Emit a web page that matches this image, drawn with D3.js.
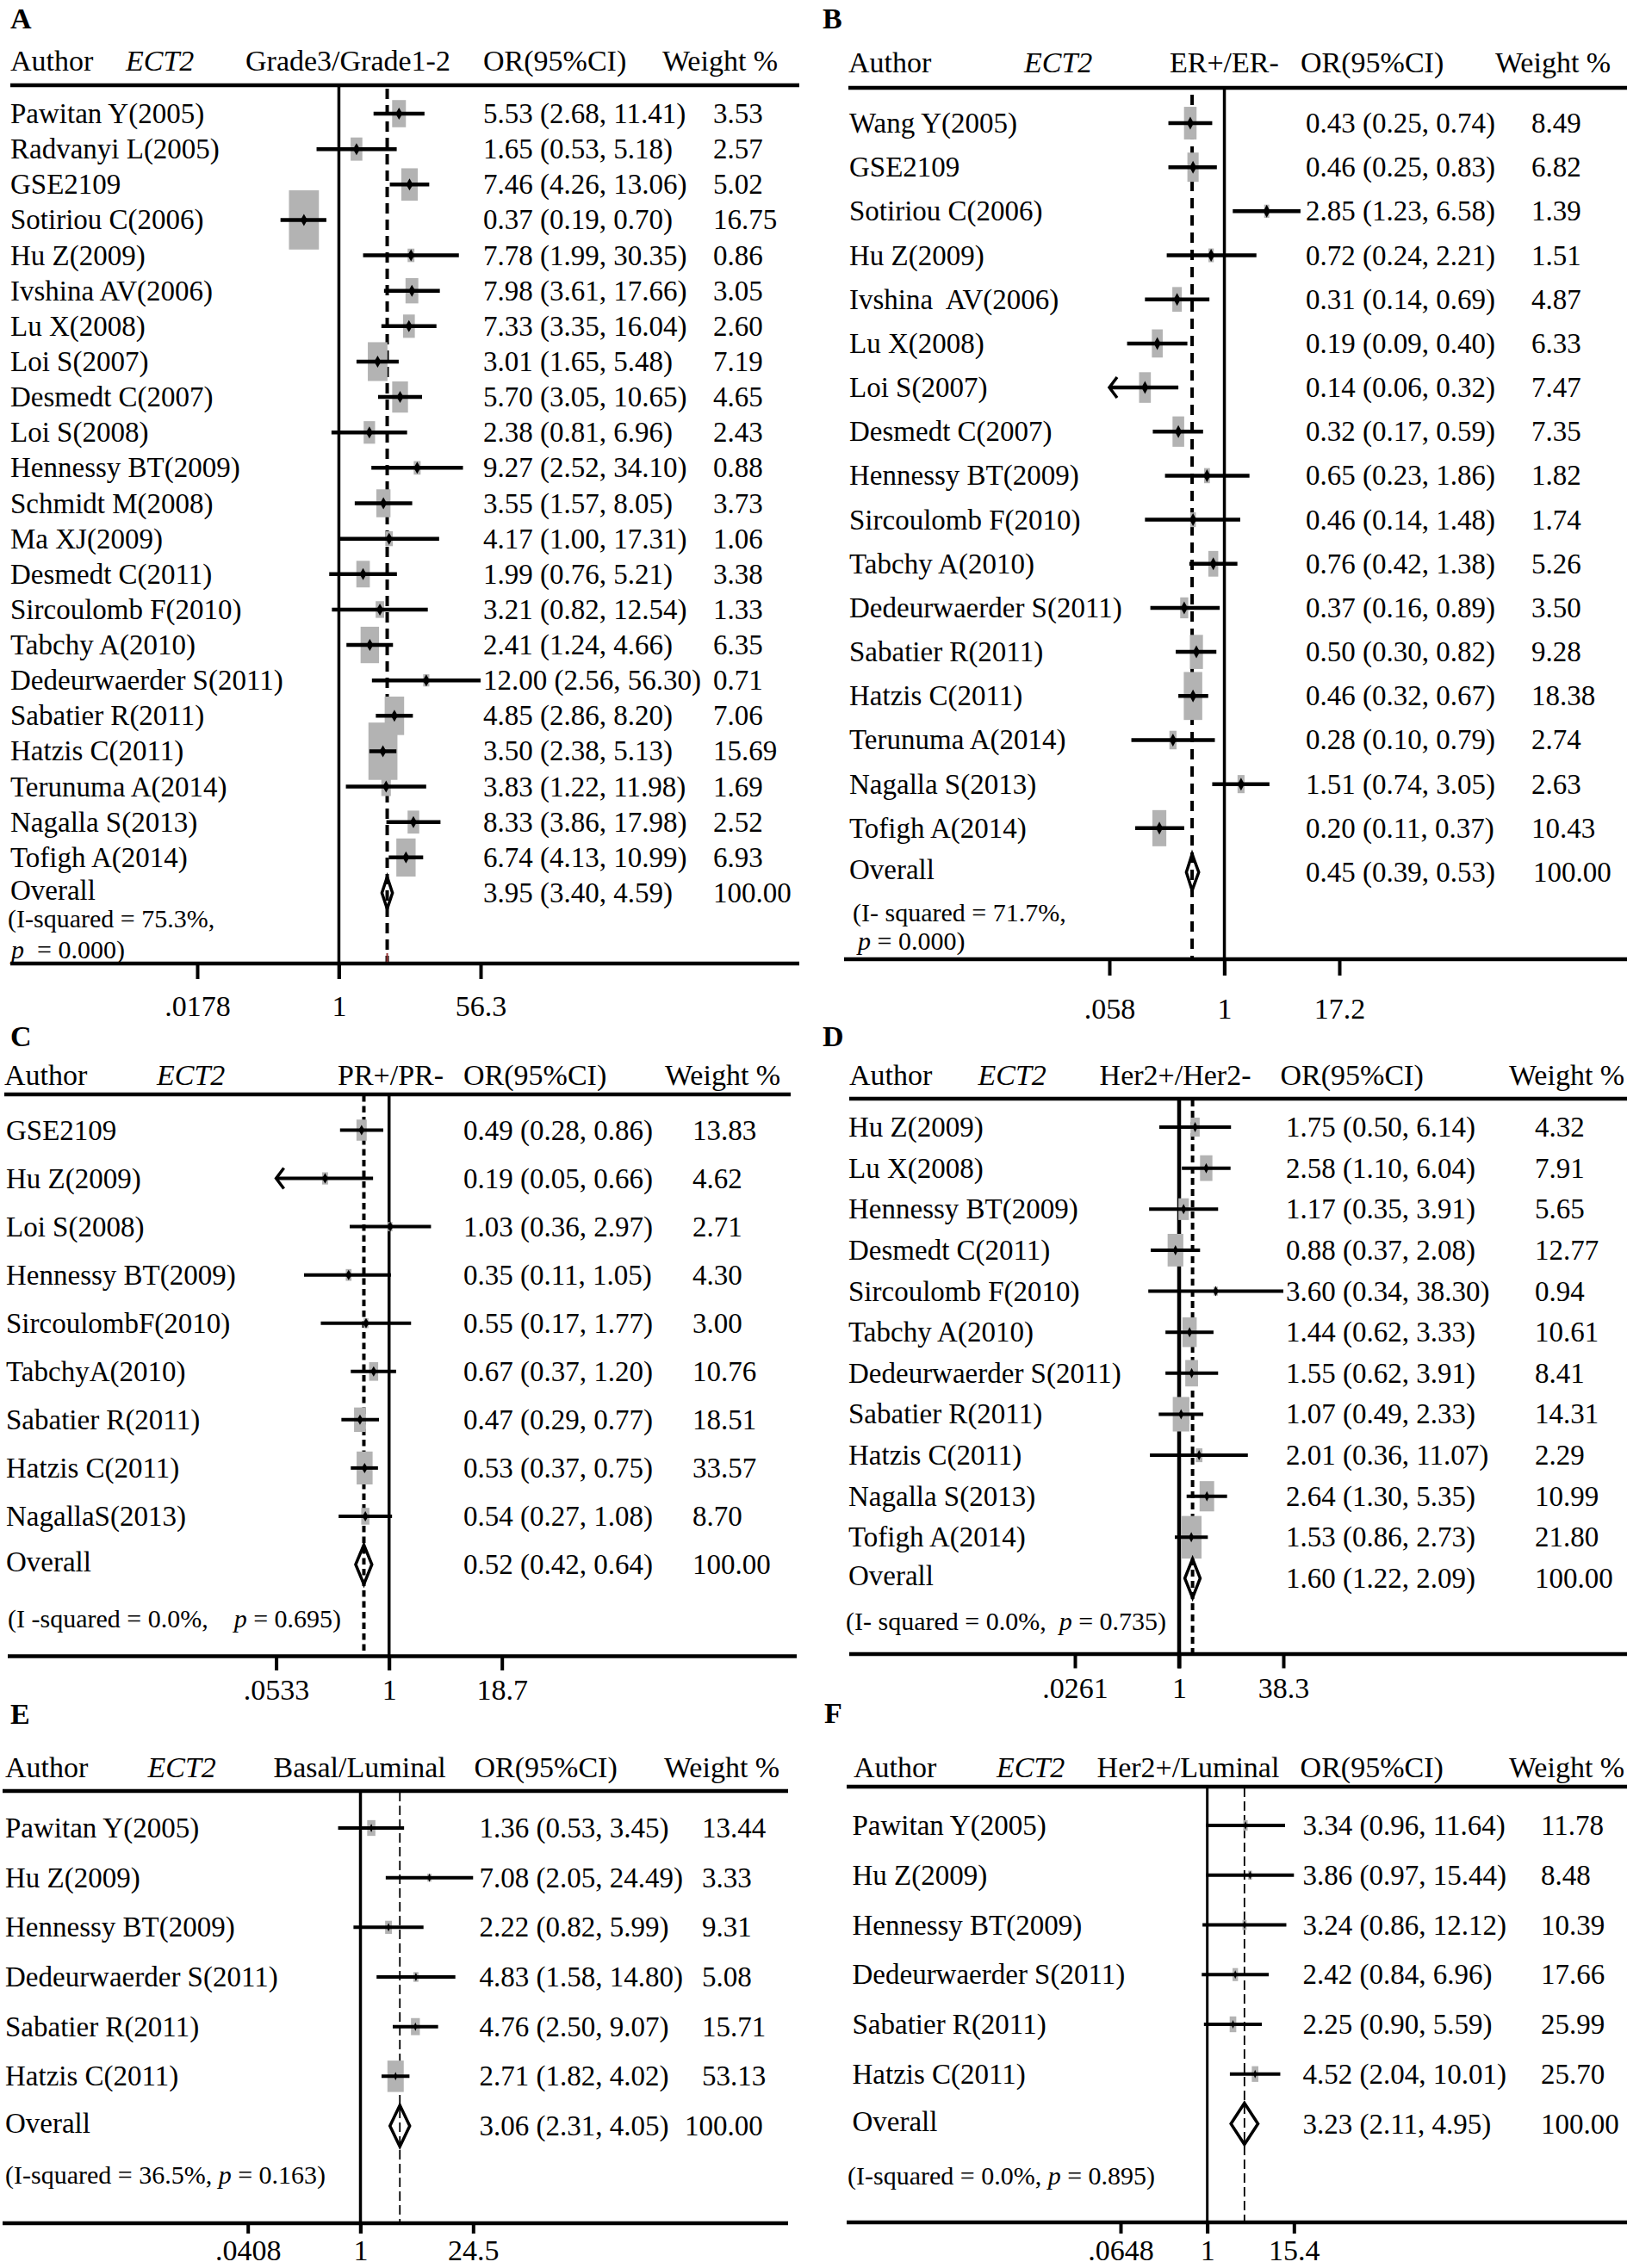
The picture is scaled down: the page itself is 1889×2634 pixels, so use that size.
<!DOCTYPE html>
<html><head><meta charset="utf-8">
<script src="https://cdn.jsdelivr.net/npm/d3@7"></script>
<style>
html,body{margin:0;padding:0;background:#fff;}
svg text{font-family:"Liberation Serif","Times New Roman",serif;fill:#000;white-space:pre;}
</style></head><body>
<svg id="chart" width="1889" height="2634"></svg>
<script>
// ---------------- DATA ----------------
const namesA = ["Pawitan Y(2005)","Radvanyi L(2005)","GSE2109","Sotiriou C(2006)","Hu Z(2009)","Ivshina AV(2006)","Lu X(2008)","Loi S(2007)","Desmedt C(2007)","Loi S(2008)","Hennessy BT(2009)","Schmidt M(2008)","Ma XJ(2009)","Desmedt C(2011)","Sircoulomb F(2010)","Tabchy A(2010)","Dedeurwaerder S(2011)","Sabatier R(2011)","Hatzis C(2011)","Terunuma A(2014)","Nagalla S(2013)","Tofigh A(2014)"];
const orA = [5.53,1.65,7.46,0.37,7.78,7.98,7.33,3.01,5.70,2.38,9.27,3.55,4.17,1.99,3.21,2.41,12.00,4.85,3.50,3.83,8.33,6.74];
const loA = [2.68,0.53,4.26,0.19,1.99,3.61,3.35,1.65,3.05,0.81,2.52,1.57,1.00,0.76,0.82,1.24,2.56,2.86,2.38,1.22,3.86,4.13];
const hiA = [11.41,5.18,13.06,0.70,30.35,17.66,16.04,5.48,10.65,6.96,34.10,8.05,17.31,5.21,12.54,4.66,56.30,8.20,5.13,11.98,17.98,10.99];
const wA  = [3.53,2.57,5.02,16.75,0.86,3.05,2.60,7.19,4.65,2.43,0.88,3.73,1.06,3.38,1.33,6.35,0.71,7.06,15.69,1.69,2.52,6.93];
const overallA = [3.95,3.40,4.59];
const ticksA = [0.0178,1,56.3];
const tickLabelsA = [".0178","1","56.3"];

const namesB = ["Wang Y(2005)","GSE2109","Sotiriou C(2006)","Hu Z(2009)","Ivshina  AV(2006)","Lu X(2008)","Loi S(2007)","Desmedt C(2007)","Hennessy BT(2009)","Sircoulomb F(2010)","Tabchy A(2010)","Dedeurwaerder S(2011)","Sabatier R(2011)","Hatzis C(2011)","Terunuma A(2014)","Nagalla S(2013)","Tofigh A(2014)"];
const orB = [0.43,0.46,2.85,0.72,0.31,0.19,0.14,0.32,0.65,0.46,0.76,0.37,0.50,0.46,0.28,1.51,0.20];
const loB = [0.25,0.25,1.23,0.24,0.14,0.09,0.06,0.17,0.23,0.14,0.42,0.16,0.30,0.32,0.10,0.74,0.11];
const hiB = [0.74,0.83,6.58,2.21,0.69,0.40,0.32,0.59,1.86,1.48,1.38,0.89,0.82,0.67,0.79,3.05,0.37];
const wB  = [8.49,6.82,1.39,1.51,4.87,6.33,7.47,7.35,1.82,1.74,5.26,3.50,9.28,18.38,2.74,2.63,10.43];
const overallB = [0.45,0.39,0.53];
const ticksB = [0.058,1,17.2];
const tickLabelsB = [".058","1","17.2"];

const namesC = ["GSE2109","Hu Z(2009)","Loi S(2008)","Hennessy BT(2009)","SircoulombF(2010)","TabchyA(2010)","Sabatier R(2011)","Hatzis C(2011)","NagallaS(2013)"];
const orC = [0.49,0.19,1.03,0.35,0.55,0.67,0.47,0.53,0.54];
const loC = [0.28,0.05,0.36,0.11,0.17,0.37,0.29,0.37,0.27];
const hiC = [0.86,0.66,2.97,1.05,1.77,1.20,0.77,0.75,1.08];
const wC  = [13.83,4.62,2.71,4.30,3.00,10.76,18.51,33.57,8.70];
const overallC = [0.52,0.42,0.64];
const ticksC = [0.0533,1,18.7];
const tickLabelsC = [".0533","1","18.7"];

const namesD = ["Hu Z(2009)","Lu X(2008)","Hennessy BT(2009)","Desmedt C(2011)","Sircoulomb F(2010)","Tabchy A(2010)","Dedeurwaerder S(2011)","Sabatier R(2011)","Hatzis C(2011)","Nagalla S(2013)","Tofigh A(2014)"];
const orD = [1.75,2.58,1.17,0.88,3.60,1.44,1.55,1.07,2.01,2.64,1.53];
const loD = [0.50,1.10,0.35,0.37,0.34,0.62,0.62,0.49,0.36,1.30,0.86];
const hiD = [6.14,6.04,3.91,2.08,38.30,3.33,3.91,2.33,11.07,5.35,2.73];
const wD  = [4.32,7.91,5.65,12.77,0.94,10.61,8.41,14.31,2.29,10.99,21.80];
const overallD = [1.60,1.22,2.09];
const ticksD = [0.0261,1,38.3];
const tickLabelsD = [".0261","1","38.3"];

const namesE = ["Pawitan Y(2005)","Hu Z(2009)","Hennessy BT(2009)","Dedeurwaerder S(2011)","Sabatier R(2011)","Hatzis C(2011)"];
const orE = [1.36,7.08,2.22,4.83,4.76,2.71];
const loE = [0.53,2.05,0.82,1.58,2.50,1.82];
const hiE = [3.45,24.49,5.99,14.80,9.07,4.02];
const wE  = [13.44,3.33,9.31,5.08,15.71,53.13];
const overallE = [3.06,2.31,4.05];
const ticksE = [0.0408,1,24.5];
const tickLabelsE = [".0408","1","24.5"];

const namesF = ["Pawitan Y(2005)","Hu Z(2009)","Hennessy BT(2009)","Dedeurwaerder S(2011)","Sabatier R(2011)","Hatzis C(2011)"];
const orF = [3.34,3.86,3.24,2.42,2.25,4.52];
const loF = [0.96,0.97,0.86,0.84,0.90,2.04];
const hiF = [11.64,15.44,12.12,6.96,5.59,10.01];
const wF  = [11.78,8.48,10.39,17.66,25.99,25.70];
const overallF = [3.23,2.11,4.95];
const ticksF = [0.0648,1,15.4];
const tickLabelsF = [".0648","1","15.4"];

const comparisons = ["Grade3/Grade1-2","ER+/ER-","PR+/PR-","Her2+/Her2-","Basal/Luminal","Her2+/Luminal"];
const i2Values = ["75.3%","71.7%","0.0%","0.0%","36.5%","0.0%"];
const pValues = ["0.000","0.000","0.695","0.735","0.163","0.895"];
const panelLetters = ["A","B","C","D","E","F"];

// ---------------- LAYOUT ----------------
const layouts = [
 {letterX:12,letterY:33,headY:82,hx:[12,146,285,561,769],head:[12,928,99],xr:[229,558],y0:132,yOv:1037,axis:[12,928,1119],tickLen:18,tickLabelY:1180,
  solidW:3.5,dashY0:103,dash:"12,7",dashW:4,nameX:12,orX:561,wX:828,wOvX:828,box:[8.5,16.8],marker:[4,7],ciW:4.5,diaH:37,
  i2:[{x:9,y:1077,pre:"(I-squared = ",post:","},{x:13,y:1113,p:true,post:"  = "}], redTail:true},
 {letterX:955,letterY:33,headY:84,hx:[985,1189,1358,1510,1736],head:[985,1889,102],xr:[1288,1555],y0:143,yOv:1013,axis:[980,1889,1114],tickLen:19,tickLabelY:1183,
  solidW:3.5,dashY0:110,dash:"12,8",dashW:4,nameX:986,orX:1516,wX:1778,wOvX:1780,box:[5,13],marker:[4,7.5],ciW:4.5,diaH:42,
  i2:[{x:990,y:1070,pre:"(I- squared = ",post:","},{x:996,y:1103,p:true,post:" = "}]},
 {letterX:12,letterY:1215,headY:1260,hx:[5,182,392,538,772],head:[5,918,1271],xr:[320.6,582.7],y0:1312.5,yOv:1817,axis:[9,925,1923.5],tickLen:16.5,tickLabelY:1974,
  solidW:3.5,dashY0:1272,dash:"7.5,5",dashW:4,nameX:7,orX:538,wX:804,wOvX:804,box:[3.2,6.6],marker:[3.5,6],ciW:4,diaH:46,
  i2:[{x:9,y:1890,pre:"(I -squared = ",post:",    ",p:true,post2:" = "}]},
 {letterX:955,letterY:1215,headY:1260,hx:[986,1135.5,1276.6,1486.5,1752],head:[986,1889,1276],xr:[1248,1490],y0:1309,yOv:1833,axis:[986,1889,1921],tickLen:16.5,tickLabelY:1972,
  solidW:4.5,dashY0:1277,dash:"8,5",dashW:4,nameX:985,orX:1493,wX:1782,wOvX:1782,box:[5.1,10.6],marker:[3,6],ciW:4,diaH:45,
  i2:[{x:982,y:1893,pre:"(I- squared = ",post:",  ",p:true,post2:" = "}]},
 {letterX:12,letterY:2002,headY:2064,hx:[6,171.5,317.5,550.5,771],head:[3,915,2080],xr:[287.7,549.3],y0:2123,yOv:2469,axis:[3,915,2582],tickLen:12,tickLabelY:2625,
  solidW:3.5,dashY0:2081,dash:"11,5",dashW:1.8,nameX:6,orX:556.6,wX:815,wOvX:795,box:[2.6,5],marker:[2,5],ciW:4,diaH:48,
  i2:[{x:6,y:2536,pre:"(I-squared = ",post:", ",p:true,post2:" = "}]},
 {letterX:957,letterY:2001,headY:2064,hx:[991,1157,1273.6,1509.6,1752],head:[983,1889,2075],xr:[1301,1502.3],y0:2120,yOv:2466.5,axis:[983,1889,2581],tickLen:13,tickLabelY:2625,
  solidW:3,dashY0:2076,dash:"11,5",dashW:1.8,nameX:989.5,orX:1512.6,wX:1789,wOvX:1789,box:[1.5,3.6],marker:[2,5],ciW:4,diaH:48,
  i2:[{x:984,y:2537,pre:"(I-squared = ",post:", ",p:true,post2:" = "}]}
];

const panelData = [
 {names:namesA,or:orA,lo:loA,hi:hiA,w:wA,overall:overallA,ticks:ticksA,labels:tickLabelsA},
 {names:namesB,or:orB,lo:loB,hi:hiB,w:wB,overall:overallB,ticks:ticksB,labels:tickLabelsB},
 {names:namesC,or:orC,lo:loC,hi:hiC,w:wC,overall:overallC,ticks:ticksC,labels:tickLabelsC},
 {names:namesD,or:orD,lo:loD,hi:hiD,w:wD,overall:overallD,ticks:ticksD,labels:tickLabelsD},
 {names:namesE,or:orE,lo:loE,hi:hiE,w:wE,overall:overallE,ticks:ticksE,labels:tickLabelsE},
 {names:namesF,or:orF,lo:loF,hi:hiF,w:wF,overall:overallF,ticks:ticksF,labels:tickLabelsF}
];

const svg = d3.select("#chart");
const FS = 33, HFS = 34, IFS = 30;
const BOX = "#b3b3b3";
const fmt = v => v.toFixed(2);

panelData.forEach((pd, k) => {
  const L = layouts[k];
  const g = svg.append("g");
  const x = d3.scaleLog().domain([pd.ticks[0], pd.ticks[2]]).range(L.xr);
  const n = pd.names.length;
  const y = d3.scaleLinear().domain([0, n]).range([L.y0, L.yOv]);
  const rows = d3.range(n).map(i => ({name:pd.names[i], or:pd.or[i], lo:pd.lo[i], hi:pd.hi[i], w:pd.w[i], i}));

  // panel letter
  g.append("text").attr("x",L.letterX).attr("y",L.letterY).attr("font-size",34).attr("font-weight","bold").text(panelLetters[k]);

  // headers
  const headers = ["Author","ECT2",comparisons[k],"OR(95%CI)","Weight %"];
  headers.forEach((h,i)=>{
    g.append("text").attr("x",L.hx[i]).attr("y",L.headY).attr("font-size",HFS)
      .attr("font-style", i===1 ? "italic" : null).text(h);
  });
  g.append("line").attr("x1",L.head[0]).attr("x2",L.head[1]).attr("y1",L.head[2]).attr("y2",L.head[2])
    .attr("stroke","#000").attr("stroke-width",4.5);

  // axis line
  g.append("line").attr("x1",L.axis[0]).attr("x2",L.axis[1]).attr("y1",L.axis[2]).attr("y2",L.axis[2])
    .attr("stroke","#000").attr("stroke-width",4.5);

  // ticks via d3 axis
  const ax = d3.axisBottom(x).tickValues(pd.ticks).tickFormat((d,i)=>pd.labels[i]).tickSize(L.tickLen).tickSizeOuter(0);
  const axG = g.append("g").attr("transform",`translate(0,${L.axis[2]})`).call(ax);
  axG.select(".domain").remove();
  axG.selectAll(".tick line").attr("stroke","#000").attr("stroke-width",4);
  axG.selectAll(".tick text").attr("y", L.tickLabelY - L.axis[2]).attr("dy",null)
    .attr("font-size",HFS).attr("font-family",'"Liberation Serif",serif').attr("fill","#000");

  // null line (OR = 1)
  g.append("line").attr("x1",x(1)).attr("x2",x(1)).attr("y1",L.head[2]).attr("y2",L.axis[2]+L.tickLen)
    .attr("stroke","#000").attr("stroke-width",L.solidW);

  // overall dashed line
  const xo = x(pd.overall[0]);
  g.append("line").attr("x1",xo).attr("x2",xo).attr("y1",L.dashY0).attr("y2",L.axis[2])
    .attr("stroke","#000").attr("stroke-width",L.dashW).attr("stroke-dasharray",L.dash);
  if (L.redTail) {
    g.append("line").attr("x1",xo).attr("x2",xo).attr("y1",L.axis[2]-12).attr("y2",L.axis[2]-2)
      .attr("stroke","#9b3a3a").attr("stroke-width",2);
  }

  // weight boxes
  g.selectAll("rect.box").data(rows).join("rect").attr("class","box")
    .attr("x", d => x(d.or) - L.box[0]*Math.sqrt(d.w)/2)
    .attr("y", d => y(d.i) - L.box[1]*Math.sqrt(d.w)/2)
    .attr("width", d => L.box[0]*Math.sqrt(d.w))
    .attr("height", d => L.box[1]*Math.sqrt(d.w))
    .attr("fill", BOX);

  // CI lines
  g.selectAll("line.ci").data(rows).join("line").attr("class","ci")
    .attr("x1", d => x(Math.max(d.lo, pd.ticks[0])))
    .attr("x2", d => x(Math.min(d.hi, pd.ticks[2])))
    .attr("y1", d => y(d.i)).attr("y2", d => y(d.i))
    .attr("stroke","#000").attr("stroke-width",L.ciW);

  // arrows where CI is truncated at the lower axis end
  g.selectAll("path.arrow").data(rows.filter(d => d.lo < pd.ticks[0]*1.05)).join("path").attr("class","arrow")
    .attr("d", d => { const ax0 = x(pd.ticks[0]), yy = y(d.i); return `M${ax0+9},${yy-12} L${ax0},${yy} L${ax0+9},${yy+12}`; })
    .attr("fill","none").attr("stroke","#000").attr("stroke-width",3.5);

  // point markers
  g.selectAll("path.pt").data(rows).join("path").attr("class","pt")
    .attr("d", d => { const cx = x(d.or), cy = y(d.i), a = L.marker[0], b = L.marker[1];
      return `M${cx},${cy-b} L${cx+a},${cy} L${cx},${cy+b} L${cx-a},${cy} Z`; })
    .attr("fill","#000");

  // overall diamond
  const yo = y(n);
  g.append("path")
    .attr("d", `M${x(pd.overall[1])},${yo} L${xo},${yo-L.diaH/2} L${x(pd.overall[2])},${yo} L${xo},${yo+L.diaH/2} Z`)
    .attr("fill","none").attr("stroke","#000").attr("stroke-width",3.5);

  // row texts
  const dy = 11;
  g.selectAll("text.nm").data(rows).join("text").attr("class","nm")
    .attr("x",L.nameX).attr("y",d=>y(d.i)+dy).attr("font-size",FS).text(d=>d.name);
  g.selectAll("text.orv").data(rows).join("text").attr("class","orv")
    .attr("x",L.orX).attr("y",d=>y(d.i)+dy).attr("font-size",FS)
    .text(d=>`${fmt(d.or)} (${fmt(d.lo)}, ${fmt(d.hi)})`);
  g.selectAll("text.wt").data(rows).join("text").attr("class","wt")
    .attr("x",L.wX).attr("y",d=>y(d.i)+dy).attr("font-size",FS).text(d=>fmt(d.w));

  // overall row texts
  g.append("text").attr("x",L.nameX).attr("y",yo+dy-3).attr("font-size",FS).text("Overall");
  g.append("text").attr("x",L.orX).attr("y",yo+dy).attr("font-size",FS)
    .text(`${fmt(pd.overall[0])} (${fmt(pd.overall[1])}, ${fmt(pd.overall[2])})`);
  g.append("text").attr("x",L.wOvX).attr("y",yo+dy).attr("font-size",FS).text("100.00");

  // heterogeneity text
  L.i2.forEach(line => {
    const t = g.append("text").attr("x",line.x).attr("y",line.y).attr("font-size",IFS);
    if (line.pre) {
      t.append("tspan").text(line.pre + i2Values[k] + line.post);
      if (line.p) {
        t.append("tspan").attr("font-style","italic").text("p");
        t.append("tspan").text(line.post2 + pValues[k] + ")");
      }
    } else if (line.p) {
      t.append("tspan").attr("font-style","italic").text("p");
      t.append("tspan").text(line.post + pValues[k] + ")");
    }
  });
});
</script>
</body></html>
